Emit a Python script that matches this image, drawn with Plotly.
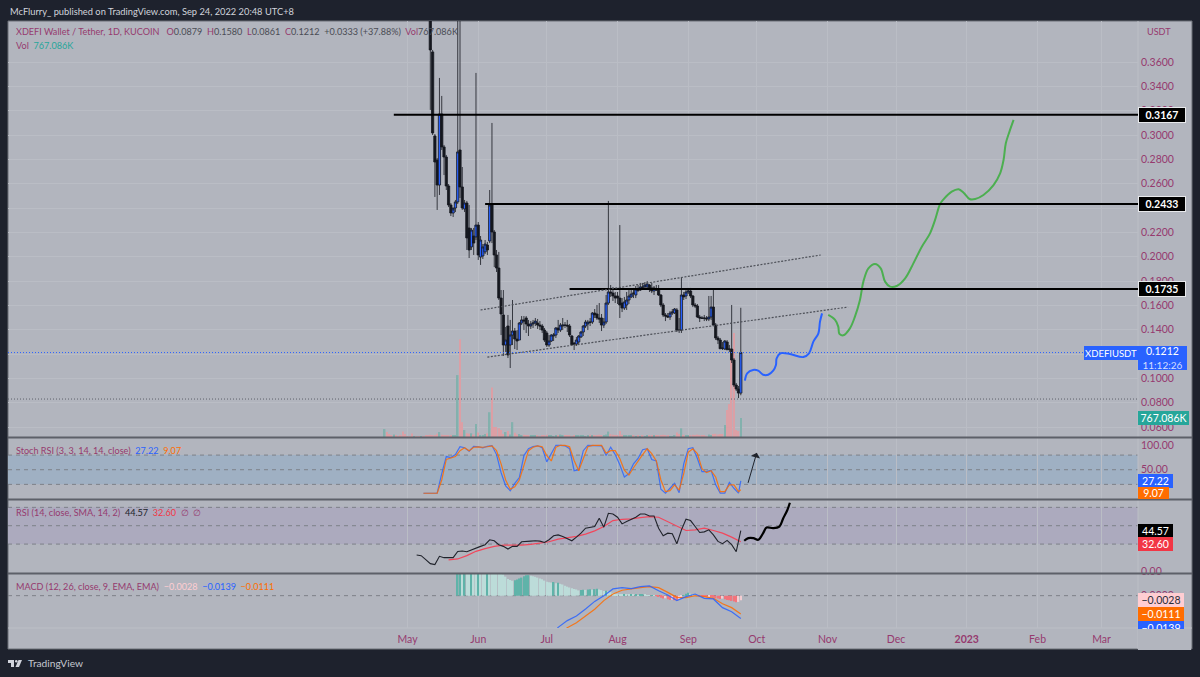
"""XDEFI / USDT daily chart with volume, Stoch RSI, RSI and MACD panes."""
import pandas as pd
import plotly.graph_objects as go

W, H = 1200, 677

# daily candles, May 11 to Sep 24 2022
candle_start = "2022-05-11"
opens = [
    .4600, .3683, .2992, .2795, .2589, .3173, .2902, .2819, .2581, .2425,
    .2359, .2400, .2450, .2877, .2573, .2392, .2441, .2236, .2080, .2170,
    .2162, .2260, .1997, .2006, .2039, .2096, .2129, .2425, .2203, .2014,
    .1907, .1660, .1521, .1274, .1430, .1274, .1356, .1389, .1323, .1315,
    .1455, .1480, .1496, .1447, .1430, .1447, .1455, .1455, .1438, .1430,
    .1397, .1373, .1274, .1307, .1348, .1356, .1414, .1397, .1430, .1438,
    .1438, .1430, .1348, .1290, .1282, .1299, .1340, .1381, .1430, .1447,
    .1463, .1463, .1537, .1529, .1496, .1496, .1438, .1463, .1619, .1710,
    .1701, .1677, .1677, .1660, .1619, .1578, .1603, .1644, .1669, .1701,
    .1685, .1726, .1726, .1751, .1751, .1751, .1767, .1743, .1718, .1734,
    .1734, .1685, .1603, .1521, .1512, .1504, .1537, .1537, .1562, .1397,
    .1397, .1685, .1677, .1710, .1718, .1677, .1603, .1595, .1504, .1496,
    .1496, .1496, .1488, .1504, .1586, .1438, .1332, .1315, .1249, .1241,
    .1299, .1241, .1241, .1151, .0945, .0912, .0879,
]
highs = [
    .4700, .3699, .3008, .2811, .3469, .3321, .2918, .2836, .2597, .2441,
    .2376, .2466, .4200, .4300, .2737, .2466, .2458, .2425, .2236, .2236,
    .3510, .2285, .2170, .2104, .2137, .2121, .2548, .3099, .2219, .2055,
    .2039, .1726, .1726, .1422, .1521, .1480, .1644, .1414, .1397, .1463,
    .1512, .1512, .1512, .1480, .1471, .1480, .1496, .1488, .1471, .1447,
    .1414, .1389, .1356, .1364, .1373, .1422, .1480, .1455, .1496, .1463,
    .1480, .1447, .1356, .1299, .1340, .1356, .1389, .1438, .1480, .1480,
    .1496, .1545, .1570, .1603, .1619, .1529, .1496, .1685, .2458, .1767,
    .1751, .1710, .1710, .2260, .1660, .1669, .1710, .1726, .1726, .1743,
    .1759, .1767, .1784, .1784, .1792, .1800, .1775, .1784, .1759, .1767,
    .1767, .1693, .1619, .1537, .1537, .1554, .1570, .1578, .1578, .1496,
    .1833, .1710, .1726, .1743, .1743, .1685, .1619, .1611, .1521, .1512,
    .1521, .1512, .1677, .1677, .1726, .1455, .1348, .1332, .1299, .1315,
    .1315, .1274, .1603, .1167, .0962, .0937, .1580,
]
lows = [
    .3206, .3000, .2491, .2384, .2507, .2877, .2671, .2548, .2408, .2334,
    .2326, .2367, .2433, .2482, .2384, .2367, .2055, .1989, .2055, .2014,
    .2137, .1973, .1932, .1981, .2022, .2014, .2112, .2112, .1915, .1874,
    .1644, .1356, .1184, .1217, .1167, .1085, .1274, .1241, .1233, .1315,
    .1438, .1397, .1373, .1348, .1406, .1414, .1430, .1406, .1397, .1373,
    .1299, .1258, .1258, .1299, .1307, .1332, .1373, .1381, .1397, .1414,
    .1381, .1340, .1274, .1233, .1266, .1282, .1332, .1348, .1414, .1397,
    .1430, .1447, .1496, .1480, .1455, .1389, .1414, .1447, .1603, .1669,
    .1636, .1619, .1611, .1496, .1545, .1562, .1562, .1611, .1660, .1660,
    .1660, .1710, .1718, .1726, .1743, .1743, .1710, .1701, .1685, .1718,
    .1677, .1586, .1504, .1471, .1496, .1480, .1521, .1529, .1381, .1373,
    .1373, .1644, .1652, .1693, .1660, .1586, .1578, .1496, .1463, .1488,
    .1471, .1471, .1471, .1480, .1430, .1315, .1282, .1241, .1233, .1233,
    .1233, .1217, .1126, .0929, .0896, .0838, .0861,
]
closes = [
    .3699, .3017, .2778, .2589, .3173, .2902, .2819, .2581, .2425, .2359,
    .2400, .2450, .2861, .2573, .2400, .2441, .2154, .2055, .2219, .2112,
    .2260, .2014, .2137, .2080, .2104, .2055, .2425, .2203, .2014, .1907,
    .1660, .1529, .1274, .1315, .1192, .1356, .1389, .1323, .1307, .1455,
    .1480, .1471, .1447, .1430, .1447, .1455, .1471, .1438, .1430, .1397,
    .1315, .1274, .1307, .1356, .1356, .1414, .1397, .1438, .1438, .1436,
    .1430, .1356, .1276, .1282, .1315, .1348, .1381, .1430, .1463, .1463,
    .1461, .1537, .1521, .1496, .1488, .1438, .1463, .1619, .1710, .1701,
    .1677, .1660, .1660, .1603, .1578, .1628, .1644, .1677, .1693, .1699,
    .1734, .1724, .1751, .1749, .1767, .1775, .1734, .1718, .1743, .1726,
    .1685, .1603, .1521, .1512, .1504, .1537, .1545, .1570, .1397, .1395,
    .1685, .1669, .1710, .1718, .1677, .1603, .1595, .1504, .1496, .1494,
    .1494, .1488, .1504, .1586, .1438, .1332, .1315, .1243, .1247, .1307,
    .1235, .1239, .1151, .0945, .0912, .0879, .1212,
]

# volume in thousands, Apr 21 to Sep 24
volume_start = "2022-04-21"
volumes = [
    320, 200, 120, 80, 100, 60, 40, 50, 220, 120,
    40, 30, 140, 30, 40, 30, 40, 30, 60, 50,
    90, 80, 70, 130, 200, 90, 60, 80, 60, 80, 60, 70,
    2500, 3950, 600, 280, 150, 130, 150, 100, 520, 180,
    80, 60, 120, 150, 1000, 2000, 400, 400, 350, 280,
    120, 200, 240, 100, 600, 170, 100, 120, 80, 90,
    60, 70, 50, 50, 60, 60, 40, 50, 70, 90,
    80, 50, 40, 50, 70, 100, 60, 80, 50, 70,
    40, 80, 50, 60, 60, 50, 40, 70, 90, 80,
    60, 50, 90, 70, 60, 100, 220, 120, 90, 70,
    80, 240, 90, 60, 70, 50, 50, 60, 40, 60,
    40, 50, 40, 50, 70, 60, 50, 50, 60, 80,
    90, 70, 50, 40, 40, 50, 180, 120, 350, 90,
    80, 50, 60, 90, 50, 100, 60, 50, 60, 40,
    100, 70, 120, 130, 100, 120, 120, 480, 1090, 1330,
    3100, 4200, 280, 240, 767.086,
]
# days before the first visible candle
early_volume_up = [True, False, False, False, True, False, False, False, False, False,
                   False, False, False, True, False, False, True, False, False, False]

# Stoch RSI, one value every two days from May 8, then the last bar
stoch_start = "2022-05-08"
stoch_k = [
    1.8, 1.8, 1.8, 1.8, 42, 77, 75, 81, 97, 95,
    88, 98, 97, 95, 98, 99.5, 81, 44, 17, 7,
    22, 34, 79, 93, 97.5, 99, 95, 66, 83, 100,
    100, 99, 93, 48, 50, 89, 100, 100, 100, 99,
    79, 96, 81, 60, 35, 42, 62, 73, 91, 93,
    71, 68, 10, 2, 12, 22, 3, 62, 93, 95,
    73, 46, 46, 49, 19, 2, 2, 24, 12, 2, 27.22,
]
stoch_d = [
    1.8, 1.8, 1.8, 1.8, 29, 71, 74, 77, 89, 95,
    89, 96, 97, 96, 97, 99, 89, 62, 29, 10,
    15, 29, 59, 89, 96, 99, 97, 79, 68, 96,
    100, 100, 97, 69, 48, 73, 97, 100, 100, 100,
    84, 89, 89, 73, 49, 39, 54, 68, 81, 93,
    83, 68, 29, 5, 7, 19, 8, 42, 86, 93,
    83, 52, 44, 48, 35, 5, 5, 19, 19, 5, 9.07,
]

# RSI every two days from May 5, its average every four days from May 19
rsi_start = "2022-05-05"
rsi_values = [
    18.1, 17.4, 13.1, 8.7, 7.7, 16.7, 15.2, 14.9, 15.2, 22,
    22.4, 21.7, 23.9, 26, 27.5, 29.3, 34.7, 33.6, 29.3, 27.5,
    24.6, 27.5, 27.5, 32.5, 33.2, 33.2, 33.6, 33.2, 31.8, 34.7,
    39, 40, 38.3, 35.8, 33.6, 37.6, 41.9, 47.3, 48.4, 49.1,
    58.1, 48.4, 63.5, 62.8, 59.2, 52, 54.5, 57, 59.2, 62.8,
    62.8, 60.6, 60.6, 47.3, 39, 41.9, 41.2, 30.4, 45.5, 57,
    55.6, 49.1, 42.6, 43.3, 45.5, 40, 32.9, 30.4, 34, 29.3,
    21.7, 44.57,
]
rsi_ma_start = "2022-05-19"
rsi_ma = [
    12.7, 13.8, 17.4, 22.1, 25, 27.5, 28.9, 28.6, 28.9, 29.6,
    31.1, 32.5, 35.4, 36.8, 38.3, 40.8, 44.4, 49.1, 55.6, 57,
    57.4, 58.8, 59.9, 59.2, 54.5, 49.1, 44.8, 45.5, 47.3, 44.8,
    41.9, 37.6, 32.6,
]

# MACD lines every four days from Jul 2, histogram daily from May 23
macd_start = "2022-07-02"
macd_line = [
    -.0260, -.0193, -.0152, -.0124, -.0081, -.0035, 0, .0041, .0049, .0043,
    .0055, .0059, .0030, .0004, -.0030, -.0006, .0010, -.0016, -.0020, -.0073,
    -.0098, -.0139,
]
signal_line = [
    -.0290, -.0240, -.0195, -.0165, -.0124, -.0083, -.0030, .0010, .0033, .0043,
    .0049, .0055, .0049, .0020, -.0010, -.0012, 0, -.0006, -.0016, -.0049,
    -.0073, -.0111,
]
hist_start = "2022-05-23"
macd_hist = [
    .016, .018, .017, .019, .018, .017, .020, .019, .018, .021,
    .020, .019, .018, .022, .021, .020, .019, .018, .017, .016,
    .0130, .0116, .0102, .0096, .0091,
    .0094, .0099, .0105, .0110, .0118, .0125,
    .0125, .0122, .0118, .0115,
    .0110, .0105, .0100, .0092, .0085, .0082,
    .0080, .0083, .0075, .0078, .0072,
    .0068, .0060, .0055, .0050, .0045, .0040,
    .0038, .0032, .0034, .0036, .0035,
    .0037, .0039, .0036, .0040, .0042, .0038,
    .0034, .0028, .0030, .0026, .0022, .0016,
    .0012, .0010, .0008, .0006, .0009, .0007, .0006, .0008, .0005, .0006,
    .0004, .0005, .0006, .0005, .0003, .0002, .0002, .0001,
    -.0002, -.0006, -.0012, -.0018, -.0016, -.0022, -.0026,
    -.0024, -.0028, -.0030, -.0022,
    -.0010, .0002, .0012, .0018,
    .0012, .0008, .0004, .0001, -.0002,
    -.0004, -.0006, -.0008, -.0006, -.0008, -.0012,
    -.0016, -.0018, -.0020, -.0018, -.0022, -.0026,
    -.0028, -.0032, -.0036, -.0040, -.0038, -.0028,
]

# hand drawn forecast paths, in days after May 1
blue_days = [147.8, 148.8, 151.4, 153.6, 155.8, 158, 160.2, 161.4, 161.7, 163.4,
             167.5, 173.4, 175.9, 177.8, 180, 180.7, 181.6]
blue_prices = [.0981, .1041, .1069, .1063, .1030, .1030, .1063, .1110, .1165, .1206,
               .1200, .1175, .1206, .1302, .1370, .1466, .1534]
green_days = [184.3, 187.3, 188.7, 189.2, 190.9, 193.8, 196, 198.2, 199.7, 201.9,
              204.8, 207.3, 209.2, 211.4, 214.3, 218, 221.6, 225.3, 228.9, 231.1,
              233.3, 234.8, 238.4, 241.4, 243.6, 246.2, 248.7, 252.3, 256.7, 259.6,
              261.1, 262.1, 263.7, 265.5]
green_prices = [.1521, .1480, .1425, .1365, .1354, .1411, .1507, .1644, .1795, .1904,
                .1940, .1904, .1795, .1754, .1759, .1822, .1945, .2082, .2192, .2302,
                .2433, .2471, .2534, .2554, .2526, .2474, .2474, .2507, .2589, .2685,
                .2795, .2932, .3028, .3124]
rsi_path_days = [147.5, 149.3, 151.5, 153.7, 155.8, 157.3, 160.2, 162.9, 164.6, 166.4, 167.5]
rsi_path_values = [33.6, 36.5, 36.5, 34.7, 41.9, 48, 47.3, 49.1, 58.1, 67.1, 75]

# horizontal levels and their start dates
level_prices = [.3167, .2433, .1735]
level_starts = ["2022-04-25", "2022-06-04", "2022-07-11"]
channel_upper = [("2022-06-02", .1562), ("2022-10-29", .2014)]
channel_lower = [("2022-06-05", .1175), ("2022-11-10", .1586)]
last_price = .1212
low_price = .0830

month_ticks = ["2022-05-01", "2022-06-01", "2022-07-01", "2022-08-01", "2022-09-01", "2022-10-01",
               "2022-11-01", "2022-12-01", "2023-01-01", "2023-02-01", "2023-03-01"]
month_labels = ["May", "Jun", "Jul", "Aug", "Sep", "Oct", "Nov", "Dec", "<b>2023</b>", "Feb", "Mar"]
price_ticks = [.06, .08, .10, .12, .14, .16, .18, .20, .22, .24, .26, .28, .30, .32, .34, .36]
# the .12 and .24 labels sit fully under the value tags
price_labels = ["0.0600", "0.0800", "0.1000", "", "0.1400", "0.1600", "0.1800", "0.2000", "0.2200", "",
                "0.2600", "0.2800", "0.3000", "0.3200", "0.3400", "0.3600"]

DARK = "#1e222d"
PANE = "#b2b5be"
GRID = "#babdc5"
MAGENTA = "#963a6e"
FONT = "Lato"
BLUE = "#2962ff"
ORANGE = "#ff6d00"
WICK = "#15181f"


def px_x(x):
    return x / W


def px_y(y):
    return (H - y) / H


def days(offsets):
    return [pd.Timestamp("2022-05-01") + pd.Timedelta(days=d) for d in offsets]


def every(start, count, step):
    return pd.date_range(start, periods=count, freq=f"{step}D")


fig = go.Figure()

# volume sits on the base axis so the candles draw over it
candle_dates = pd.date_range(candle_start, periods=len(closes))
vol_up = early_volume_up + [c >= o for o, c in zip(opens, closes)]
fig.add_trace(go.Bar(
    x=pd.date_range(volume_start, periods=len(volumes)), y=volumes, yaxis="y",
    marker=dict(color=["#83b1ad" if up else "#dc9fa5" for up in vol_up], line_width=0),
    hoverinfo="skip",
))

fig.add_trace(go.Candlestick(
    x=candle_dates, open=opens, high=highs, low=lows, close=closes, yaxis="y2",
    increasing=dict(line=dict(color=WICK, width=0.8), fillcolor=BLUE),
    decreasing=dict(line=dict(color=WICK, width=0.8), fillcolor=WICK),
    whiskerwidth=0, hoverinfo="skip",
))

# forecast drawings
fig.add_trace(go.Scatter(x=days(blue_days), y=blue_prices, yaxis="y2", mode="lines",
                         line=dict(color=BLUE, width=2, shape="spline"), hoverinfo="skip"))
fig.add_trace(go.Scatter(x=days(green_days), y=green_prices, yaxis="y2", mode="lines",
                         line=dict(color="#4caf50", width=2, shape="spline"), hoverinfo="skip"))

# Stoch RSI
stoch_dates = every(stoch_start, len(stoch_k) - 1, 2).append(pd.DatetimeIndex(["2022-09-24"]))
fig.add_trace(go.Scatter(x=stoch_dates, y=stoch_k, xaxis="x2", yaxis="y3", mode="lines",
                         line=dict(color=BLUE, width=1.2), opacity=0.8, hoverinfo="skip"))
fig.add_trace(go.Scatter(x=stoch_dates, y=stoch_d, xaxis="x2", yaxis="y3", mode="lines",
                         line=dict(color=ORANGE, width=1.2), opacity=0.85, hoverinfo="skip"))

# RSI
fig.add_trace(go.Scatter(x=every(rsi_ma_start, len(rsi_ma), 4), y=rsi_ma, xaxis="x3", yaxis="y4", mode="lines",
                         line=dict(color="#f2475c", width=1.2), hoverinfo="skip"))
fig.add_trace(go.Scatter(x=every(rsi_start, len(rsi_values), 2), y=rsi_values, xaxis="x3", yaxis="y4", mode="lines",
                         line=dict(color="#20232b", width=1.1), hoverinfo="skip"))
fig.add_trace(go.Scatter(x=days(rsi_path_days), y=rsi_path_values, xaxis="x3", yaxis="y4", mode="lines",
                         line=dict(color="black", width=2.2, shape="spline"), hoverinfo="skip"))

# MACD histogram colour follows rising or falling bars
hist_colors = []
for i, v in enumerate(macd_hist):
    rising = i == 0 or v >= macd_hist[i - 1]
    if v >= 0:
        hist_colors.append("#5fb3a9" if rising else "#bcdcd9")
    else:
        hist_colors.append("#f2747c" if not rising else "#f5cdd2")
fig.add_trace(go.Bar(x=every(hist_start, len(macd_hist), 1), y=macd_hist, xaxis="x4", yaxis="y5",
                     marker=dict(color=hist_colors, line_width=0), hoverinfo="skip"))
macd_dates = every(macd_start, len(macd_line), 4)
fig.add_trace(go.Scatter(x=macd_dates, y=signal_line, xaxis="x4", yaxis="y5", mode="lines",
                         line=dict(color=ORANGE, width=1.2), opacity=0.85, hoverinfo="skip"))
fig.add_trace(go.Scatter(x=macd_dates, y=macd_line, xaxis="x4", yaxis="y5", mode="lines",
                         line=dict(color=BLUE, width=1.2), opacity=0.85, hoverinfo="skip"))

shapes = [
    # pane background
    dict(type="rect", xref="paper", yref="paper", x0=px_x(8), x1=px_x(1192), y0=px_y(21), y1=px_y(649),
         fillcolor=PANE, line=dict(color="#6b6e77", width=1), layer="below"),
    # oscillator bands
    dict(type="rect", xref="paper", yref="y3", x0=px_x(8), x1=px_x(1138), y0=20, y1=80,
         fillcolor="#9fb0c3", line_width=0, layer="below"),
    dict(type="rect", xref="paper", yref="y4", x0=px_x(8), x1=px_x(1138), y0=30, y1=70,
         fillcolor="#acaabe", line_width=0, layer="below"),
]
for axis_name, level in [("y3", 80), ("y3", 50), ("y3", 20), ("y4", 70), ("y4", 50), ("y4", 30), ("y5", 0)]:
    shapes.append(dict(type="line", xref="paper", yref=axis_name, x0=px_x(8), x1=px_x(1138), y0=level, y1=level,
                       line=dict(color="#7d8088", width=1, dash="4px,4px"), layer="below"))
for y in [437.5, 499.5, 573.5]:
    shapes.append(dict(type="line", xref="paper", yref="paper", x0=px_x(8), x1=px_x(1192), y0=px_y(y), y1=px_y(y),
                       line=dict(color="#5d6069", width=2)))
# price axis and time axis borders
shapes.append(dict(type="line", xref="paper", yref="paper", x0=px_x(1138), x1=px_x(1138), y0=px_y(21), y1=px_y(649),
                   line=dict(color="#bcbfc6", width=1), layer="below"))
shapes.append(dict(type="line", xref="paper", yref="paper", x0=px_x(8), x1=px_x(1192), y0=px_y(628), y1=px_y(628),
                   line=dict(color="#bcbfc6", width=1), layer="below"))
# level lines
for price, start in zip(level_prices, level_starts):
    shapes.append(dict(type="line", xref="x", yref="y2", x0=start, x1="2023-03-17", y0=price, y1=price,
                       line=dict(color="black", width=2)))
for (d0, p0), (d1, p1) in [channel_upper, channel_lower]:
    shapes.append(dict(type="line", xref="x", yref="y2", x0=d0, x1=d1, y0=p0, y1=p1,
                       line=dict(color="#4d5058", width=1.2, dash="2px,1.5px")))
shapes.append(dict(type="line", xref="paper", yref="y2", x0=px_x(8), x1=px_x(1138), y0=last_price, y1=last_price,
                   line=dict(color=BLUE, width=1, dash="1px,2px")))
shapes.append(dict(type="line", xref="paper", yref="y2", x0=px_x(8), x1=px_x(1138), y0=low_price, y1=low_price,
                   line=dict(color="#5d6069", width=1, dash="1px,2px")))
# TradingView logo
shapes.append(dict(type="rect", xref="paper", yref="paper", x0=px_x(8), x1=px_x(14), y0=px_y(660), y1=px_y(663),
                   fillcolor="#d1d4dc", line_width=0))
shapes.append(dict(type="rect", xref="paper", yref="paper", x0=px_x(11), x1=px_x(14), y0=px_y(660), y1=px_y(667),
                   fillcolor="#d1d4dc", line_width=0))
shapes.append(dict(type="circle", xref="paper", yref="paper", x0=px_x(15), x1=px_x(17.5), y0=px_y(660), y1=px_y(662.5),
                   fillcolor="#d1d4dc", line_width=0))
shapes.append(dict(type="path", xref="paper", yref="paper", fillcolor="#d1d4dc", line_width=0,
                   path=f"M {px_x(18.5)} {px_y(660)} L {px_x(22)} {px_y(660)} L {px_x(19)} {px_y(667)} L {px_x(15.5)} {px_y(667)} Z"))


def label(text, x, y, color=MAGENTA, size=9.1):
    return dict(text=text, xref="paper", yref="paper", x=px_x(x), y=px_y(y), xanchor="left", yanchor="middle",
                showarrow=False, font=dict(family=FONT, size=size, color=color), align="left")


def tag(text, x, width, y, bg, fg="white", height=14, yref="paper", border=None, size=10.5):
    return dict(text=text, xref="paper", yref=yref, x=px_x(x), y=y if yref != "paper" else px_y(y),
                xanchor="left", yanchor="middle", showarrow=False, width=width, height=height, align="center",
                bgcolor=bg, borderpad=0, borderwidth=1 if border else 0, bordercolor=border or bg,
                font=dict(family=FONT, size=size, color=fg))


def c(text, color):
    return f'<span style="color:{color}">{text}</span>'


VALUE = "#4a4c55"
annotations = [
    label("McFlurry_ published on TradingView.com, Sep 24, 2022 20:48 UTC+8", 8, 11, "#d1d4dc", 9.3),
    label("XDEFI Wallet / Tether, 1D, KUCOIN  &nbsp;O" + c("0.0879", VALUE) + " &nbsp;H" + c("0.1580", VALUE)
          + " &nbsp;L" + c("0.0861", VALUE) + " &nbsp;C" + c("0.1212", VALUE) + " &nbsp;" + c("+0.0333 (+37.88%)", VALUE)
          + " &nbsp;Vol" + c("767.086K", VALUE), 14, 32),
    label("Vol &nbsp;" + c("767.086K", "#26a69a"), 14, 46),
    label("Stoch RSI (3, 3, 14, 14, close) &nbsp;" + c("27.22", BLUE) + " &nbsp;" + c("9.07", ORANGE), 14, 450),
    label("RSI (14, close, SMA, 14, 2) &nbsp;" + c("44.57", "#20232b") + " &nbsp;" + c("32.60", "#f23645")
          + " &nbsp;∅ &nbsp;∅", 14, 512),
    label("MACD (12, 26, close, 9, EMA, EMA) &nbsp;" + c("−0.0028", "#ffcdd2") + " &nbsp;" + c("−0.0139", BLUE)
          + " &nbsp;" + c("−0.0111", ORANGE), 14, 586),
    label("USDT", 1145, 32),
    label("TradingView", 26, 663, "#c5c8d0", 10.2),
    # levels and last values on the price scale
    tag("<b>0.3167</b>", 1138, 46, .3167, "black", yref="y2", border="#e8e9ec"),
    tag("<b>0.2433</b>", 1138, 46, .2433, "black", yref="y2", border="#e8e9ec"),
    tag("<b>0.1735</b>", 1138, 46, .1735, "black", yref="y2", border="#e8e9ec"),
    tag("XDEFIUSDT", 1084, 54, 353, BLUE, size=9.5),
    tag('0.1212<br><span style="font-size:10px;color:#d5deff">11:12:26</span>', 1138, 49, 358, BLUE, height=24),
    tag("767.086K", 1138, 51, 418, "#26a69a"),
    tag("27.22", 1138, 35, 481, BLUE),
    tag("9.07", 1138, 31, 493, ORANGE, height=12),
    tag("44.57", 1138, 35, 531, "black"),
    tag("32.60", 1138, 35, 544, "#f23645"),
    tag("−0.0028", 1138, 46, 600, "#ffcdd2", fg="#2a2e39"),
    tag("−0.0111", 1138, 46, 614, ORANGE),
    tag("−0.0139", 1138, 46, 628, BLUE),
    # blue value tag runs under the time scale
    tag("&nbsp;", 1138, 53, 639, PANE, height=21),
    dict(ax="2022-09-27", ay=20, axref="x2", ayref="y3", x="2022-10-01", y=85, xref="x2", yref="y3", text="",
         showarrow=True, arrowhead=1, arrowsize=1.6, arrowwidth=1, arrowcolor="#20232b"),
]

x_common = dict(type="date", range=["2021-11-07", "2023-03-17"], tickvals=month_ticks, ticktext=month_labels,
                domain=[px_x(8), px_x(1138)], showgrid=True, gridcolor=GRID, gridwidth=1, zeroline=False,
                showline=False, ticks="", rangeslider=dict(visible=False))
tick_font = dict(family=FONT, size=10.5, color=MAGENTA)
y_common = dict(side="right", tickfont=tick_font, zeroline=False, ticks="", ticklabelstandoff=2)

fig.update_layout(
    width=W, height=H, autosize=False, margin=dict(l=0, r=0, t=0, b=0, pad=0, autoexpand=False),
    paper_bgcolor=DARK, plot_bgcolor="rgba(0,0,0,0)",
    showlegend=False, barmode="overlay", bargap=0.35, boxgap=0.02, boxgroupgap=0,
    xaxis=dict(x_common, anchor="y", showticklabels=False),
    xaxis2=dict(x_common, matches="x", anchor="y3", showticklabels=False),
    xaxis3=dict(x_common, matches="x", anchor="y4", showticklabels=False),
    xaxis4=dict(x_common, matches="x", anchor="y5", showticklabels=True, tickfont=tick_font, ticklabelstandoff=3),
    yaxis=dict(domain=[px_y(437), px_y(21)], range=[0, 16794], visible=False, showgrid=False, fixedrange=True),
    yaxis2=dict(y_common, domain=[px_y(437), px_y(21)], range=[.0518, .3937], overlaying="y", anchor="x",
                tickvals=price_ticks, ticktext=price_labels, showgrid=True, gridcolor=GRID),
    yaxis3=dict(y_common, domain=[px_y(499), px_y(438)], range=[-10, 115], anchor="x2", tickvals=[100, 50],
                tickformat=".2f", showgrid=False),
    yaxis4=dict(y_common, domain=[px_y(573), px_y(500)], range=[-1.5, 78], anchor="x3", tickvals=[0],
                tickformat=".2f", showgrid=False),
    yaxis5=dict(y_common, domain=[px_y(628), px_y(574)], range=[-.0197, .0132], anchor="x4", tickvals=[0],
                tickformat=".4f", showgrid=False),
    shapes=shapes, annotations=annotations,
)

# the page keeps its default body margin otherwise and the chart would sit 8px off
fig.write_html("out.html", config={"displayModeBar": False}, post_script="document.body.style.margin = '0';")
